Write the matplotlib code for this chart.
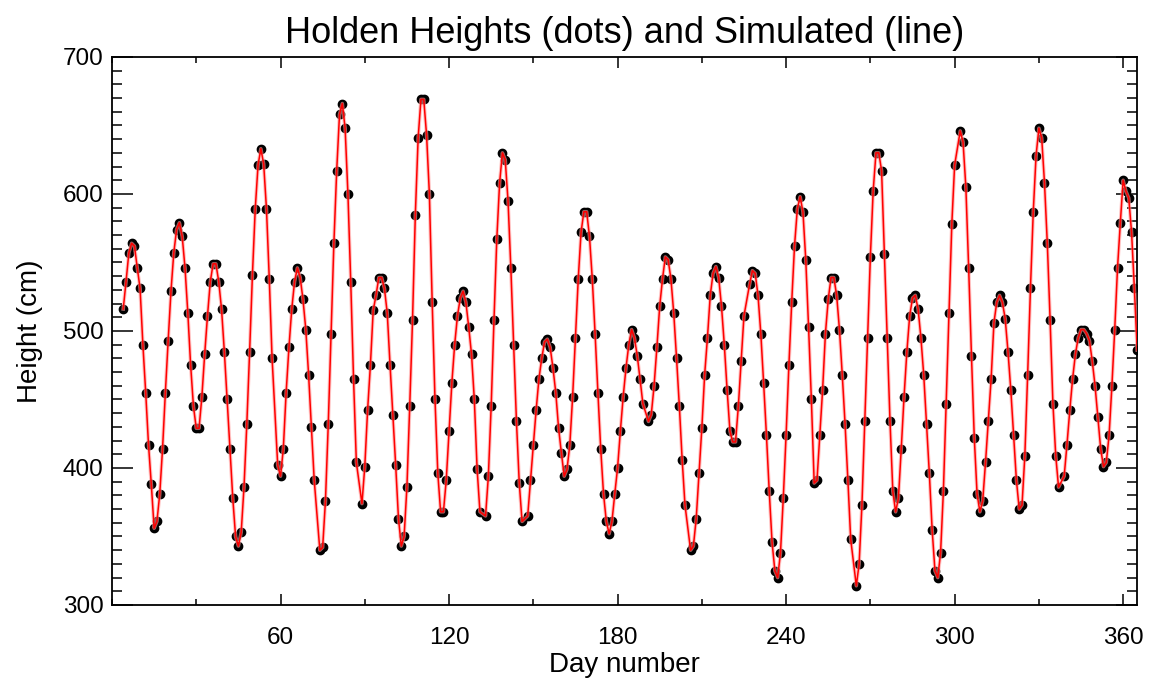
import matplotlib
matplotlib.use('Agg')
import matplotlib.pyplot as plt
from matplotlib.ticker import MultipleLocator, FixedLocator
import numpy as np

# daily heights, one block per stretch of consecutive days
# (first day of each block in seg_start)
h_a = [516, 536, 557, 564, 562, 546, 531, 490, 455, 417, 388, 356, 361, 381, 414, 455, 493, 529,
       557, 574, 579, 569, 546, 513, 475, 445, 429, 429, 452, 483, 511, 536, 549, 549, 536, 516]
h_b = [485, 450, 414, 378, 350, 343, 353, 386, 432, 485, 541, 589, 621, 633, 622, 589, 538, 480]
h_c = [402, 394, 414, 455, 488, 516, 536, 546, 539, 523, 501, 468, 430, 391]
h_d1 = [340, 342, 376, 432, 498, 564, 617, 658, 666, 648, 600, 536, 465, 404]
h_d2 = [374, 401, 442, 475, 515, 526, 539, 539, 531, 513, 475, 439, 402, 363, 343, 350, 386, 445,
        508, 585, 641, 669, 669, 643, 600, 521]
h_e1 = [450, 396, 368, 368, 391, 427, 462, 490, 511, 524, 529, 521, 503, 483, 450, 399, 368]
h_e2 = [365, 394, 445, 508, 567, 608, 630, 625, 595, 546, 490, 434, 389, 361]
h_e3 = [365, 391, 417, 442]
h_f = [465, 480, 492, 494, 488, 473, 455, 429, 411, 394, 399, 417, 452, 495, 538, 572, 587, 587,
       569, 538, 498, 455, 414, 381, 361, 352, 361, 381, 400, 427, 452, 473]
h_g1 = [490, 501, 495, 482, 465, 447]
h_g2 = [434, 439, 460, 488, 518, 538, 554, 552, 538, 513, 480, 445, 406, 373]
h_g3 = [340, 343, 363, 396, 429, 468, 495, 526, 542, 547, 539, 518, 490, 457, 427, 419, 419, 445,
        478, 511]
h_h = [534, 544, 542, 526, 498, 462, 424, 383, 346, 325, 320, 338, 378, 424, 475, 521, 562, 589,
       598, 587, 552, 503, 450, 389, 391, 424, 457, 498, 523, 539, 539, 526, 501, 468, 432, 391, 348]
h_i = [314, 330, 373, 434, 495, 554, 602, 630, 630, 617, 556, 495, 434, 383, 368, 378, 414, 452,
       485, 511, 524, 526, 516, 495, 468, 432, 396, 355, 325, 320, 338, 383, 447, 513, 578, 621]
h_j = [646, 638, 605, 546, 482, 422, 381, 368, 376, 404, 434, 465, 506, 521, 526, 521, 509, 485,
       457, 424, 391, 370, 373, 409, 468, 531, 587, 628, 648, 641, 608, 564, 508, 447, 409, 386]
h_k = [394, 417, 442, 465, 483, 495, 501, 501, 498, 493, 478, 460, 437, 414, 401, 404, 424, 460,
       501, 546, 579, 610, 602, 597, 572, 531, 486]

segments = [h_a, h_b, h_c, h_d1, h_d2, h_e1, h_e2, h_e3, h_f, h_g1, h_g2, h_g3, h_h, h_i, h_j, h_k]
seg_start = [4, 40, 59, 74, 89, 115, 133, 148, 152, 184, 191, 206, 227, 265, 302, 339]

days = np.concatenate([s + np.arange(len(h)) for s, h in zip(seg_start, segments)])
heights = np.concatenate(segments)

x_major = [60, 120, 180, 240, 300, 360]

plt.rcParams['font.family'] = ['Liberation Sans', 'DejaVu Sans']

fig = plt.figure(figsize=(11.51, 6.78), dpi=100)
ax = fig.add_axes([0.0973, 0.1077, 0.8907, 0.8083])

ax.plot(days, heights, 'o', color='black', ms=6, zorder=2)
ax.plot(days, heights, '-', color='#ff9999', lw=2.6, alpha=0.6, zorder=3)
ax.plot(days, heights, '-', color='red', lw=1.1, zorder=4)

ax.set_xlim(0, 365)
ax.set_ylim(300, 700)
ax.xaxis.set_major_locator(FixedLocator(x_major))
ax.xaxis.set_minor_locator(MultipleLocator(30))
ax.yaxis.set_major_locator(MultipleLocator(100))
ax.yaxis.set_minor_locator(MultipleLocator(10))

ax.tick_params(axis='both', which='both', direction='in', top=True, right=True,
               width=1.1, labelsize=17.5)
ax.tick_params(axis='x', which='major', length=8, pad=16)
ax.tick_params(axis='x', which='minor', length=4)
ax.tick_params(axis='y', which='major', length=15, pad=6)
ax.tick_params(axis='y', which='minor', length=7.5)
for sp in ax.spines.values():
    sp.set_linewidth(1.3)

ax.set_xlabel('Day number', fontsize=20, labelpad=2)
ax.set_ylabel('Height (cm)', fontsize=20, labelpad=14)
ax.set_title('Holden Heights (dots) and Simulated (line)', fontsize=26, pad=10)

fig.savefig('out.png', dpi=100)
